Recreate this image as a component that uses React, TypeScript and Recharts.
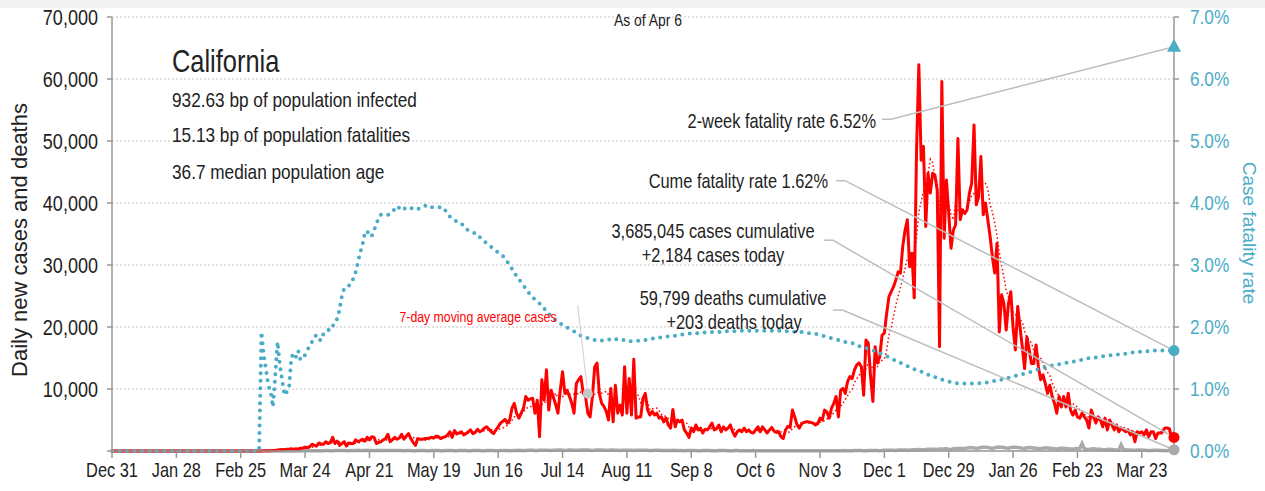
import React from 'react';
import {
    ComposedChart,
    Line,
    XAxis,
    YAxis,
    CartesianGrid,
    ReferenceLine,
    ReferenceDot,
} from 'recharts';

const FONT = "'Liberation Sans', Arial, sans-serif";
const SQUEEZE = 0.82; // narrow look of the original typeface
const BLUE = '#4bacc6';
const RED = '#ff0000';
const GREY = '#aaaaaa';
const LEADER = '#bdbdbd';

// day 0 = Dec 31 2019, day 462 = Apr 6 2021
const tickDays = [0, 28, 56, 84, 112, 140, 168, 196, 224, 252, 280, 308, 336, 364, 392, 420, 448];
const tickLabels = [
    'Dec 31', 'Jan 28', 'Feb 25', 'Mar 24', 'Apr 21', 'May 19', 'Jun 16', 'Jul 14', 'Aug 11',
    'Sep 8', 'Oct 6', 'Nov 3', 'Dec 1', 'Dec 29', 'Jan 26', 'Feb 23', 'Mar 23',
];
const leftTicks = [0, 10000, 20000, 30000, 40000, 50000, 60000, 70000];
const rightTicks = [0, 1, 2, 3, 4, 5, 6, 7];

const dailyCases = [
    0, 0, 0, 0, 0, 0, 0, 0, 0, 0,
    0, 0, 0, 0, 0, 0, 0, 0, 0, 0,
    0, 0, 0, 0, 0, 0, 0, 0, 0, 0,
    0, 0, 0, 0, 0, 0, 0, 0, 0, 0,
    0, 0, 0, 0, 0, 0, 0, 0, 0, 0,
    0, 0, 0, 0, 0, 0, 0, 0, 0, 0,
    5, 8, 10, 12, 15, 20, 25, 30, 45, 60,
    100, 100, 150, 200, 250, 200, 300, 300, 350, 300,
    350, 300, 450, 500, 600, 550, 700, 1100, 900, 800,
    1300, 1100, 1100, 1500, 1200, 1400, 2200, 1200, 1600, 900,
    1200, 1500, 800, 1300, 1200, 1200, 1800, 1500, 1700, 1900,
    1600, 2200, 1800, 2300, 2200, 1200, 1400, 1500, 1800, 2000,
    2700, 1500, 1800, 2200, 1900, 2100, 2700, 1900, 2400, 2800,
    2000, 1400, 900, 2000, 1900, 1900, 2000, 2000, 2100, 2200,
    2100, 2400, 2300, 2000, 2200, 2300, 2600, 3100, 2200, 3300,
    2800, 2900, 3100, 2600, 2800, 3100, 3400, 2800, 3000, 3500,
    3100, 3300, 3700, 3900, 3500, 3100, 2800, 3400, 3900, 4500,
    4800, 5100, 4500, 5000, 6900, 7700, 6100, 5300, 6100, 6900,
    8800, 8200, 8400, 8500, 6100, 8200, 2300, 11500, 8200, 13100,
    6600, 9800, 8700, 7500, 6100, 9800, 12800, 9300, 9800, 8800,
    7700, 6100, 10900, 11500, 12000, 9300, 8800, 6100, 5500, 8800,
    13600, 14200, 9300, 7700, 7200, 6400, 5000, 10100, 4700, 10600,
    6100, 7400, 5800, 13600, 6100, 11700, 5800, 14800, 5300, 5500,
    5500, 8500, 9300, 6600, 5800, 6400, 5800, 6100, 5300, 5500,
    4700, 5300, 4200, 3700, 6700, 3900, 5000, 4700, 5000, 3400,
    2900, 2200, 3700, 3100, 4200, 3400, 3700, 2900, 3500, 3400,
    3900, 4500, 3400, 3600, 4200, 3100, 3900, 3400, 3700, 4200,
    3100, 2400, 3100, 3400, 3100, 3700, 3100, 3400, 3000, 2900,
    3400, 3900, 3100, 3900, 3400, 2900, 3400, 3800, 3200, 3000,
    3100, 2300, 2000, 3400, 4000, 3800, 6600, 5500, 4200, 3700,
    4400, 4600, 4700, 4700, 4600, 4500, 4200, 4400, 5300, 5000,
    6600, 6300, 5300, 6900, 7700, 8800, 5500, 9800, 10100, 9300,
    11200, 12000, 11700, 13100, 13900, 14200, 13600, 9000, 17900, 17400,
    12000, 8000, 16800, 14200, 15200, 18700, 19000, 22200, 24900, 25700,
    26500, 27600, 28900, 28700, 33000, 35600, 37300, 29700, 31900, 24700,
    48500, 62300, 46900, 49100, 36200, 44800, 41600, 44800, 44500, 42000,
    16800, 59600, 34300, 43700, 38300, 32700, 35600, 36500, 50400, 37300,
    38900, 38300, 38900, 41600, 43200, 52600, 39700, 41000, 47500, 38100,
    40000, 37300, 34600, 31300, 28700, 33500, 19200, 25200, 23800, 19500,
    23800, 25700, 19800, 16300, 23300, 20000, 16800, 13300, 18400, 16300,
    14100, 14100, 17100, 13600, 11500, 12300, 10900, 9300, 10600, 8800,
    7700, 6100, 8800, 7100, 8800, 7100, 9300, 6600, 5800, 6600,
    5500, 5300, 6100, 5500, 5000, 3700, 6600, 5500, 4500, 5500,
    5000, 3900, 5300, 3400, 5000, 4200, 3400, 4200, 3100, 3700,
    3400, 3100, 3400, 2600, 3100, 1500, 3100, 2900, 3100, 2600,
    3400, 2300, 3100, 3100, 2000, 2900, 2900, 3100, 3700, 3700,
    3600, 2000, 2184,
];

const dailyDeaths = [
    0, 0, 0, 0, 0, 0, 0, 0, 0, 0,
    0, 0, 0, 0, 0, 0, 0, 0, 0, 0,
    0, 0, 0, 0, 0, 0, 0, 0, 0, 0,
    0, 0, 0, 0, 0, 0, 0, 0, 0, 0,
    0, 0, 0, 0, 0, 0, 0, 0, 0, 0,
    0, 0, 0, 0, 0, 0, 0, 0, 0, 0,
    0, 0, 0, 0, 0, 0, 0, 0, 0, 1,
    2, 1, 3, 2, 4, 6, 5, 8, 10, 12,
    15, 20, 18, 25, 30, 35, 40, 38, 45, 50,
    55, 48, 60, 65, 70, 55, 60, 75, 80, 68,
    85, 90, 70, 60, 95, 100, 90, 110, 80, 75,
    100, 105, 95, 85, 70, 80, 110, 95, 100, 90,
    65, 70, 95, 100, 85, 90, 70, 60, 85, 90,
    80, 55, 60, 90, 85, 80, 75, 60, 50, 85,
    90, 80, 70, 55, 45, 70, 85, 80, 75, 60,
    50, 80, 75, 70, 65, 55, 45, 70, 75, 80,
    70, 60, 50, 65, 75, 70, 65, 55, 60, 80,
    90, 85, 75, 60, 70, 95, 100, 110, 90, 80,
    100, 110, 120, 130, 100, 90, 120, 130, 140, 135,
    110, 95, 130, 140, 150, 145, 120, 100, 140, 150,
    160, 140, 120, 110, 150, 160, 150, 145, 120, 100,
    140, 150, 160, 145, 130, 110, 140, 150, 145, 130,
    120, 100, 130, 140, 135, 120, 110, 90, 120, 130,
    125, 120, 130, 110, 100, 80, 110, 115, 120, 100,
    95, 80, 70, 100, 110, 95, 90, 80, 65, 60,
    95, 100, 90, 85, 70, 55, 50, 85, 90, 80,
    75, 60, 50, 45, 75, 80, 70, 65, 55, 45,
    40, 65, 70, 60, 55, 50, 40, 35, 60, 65,
    55, 50, 45, 35, 30, 55, 60, 50, 45, 40,
    35, 30, 55, 60, 50, 45, 40, 35, 30, 50,
    55, 50, 45, 40, 35, 55, 60, 50, 45, 40,
    35, 55, 60, 55, 50, 45, 40, 60, 65, 60,
    55, 50, 45, 70, 75, 70, 65, 55, 50, 80,
    90, 85, 75, 65, 60, 100, 110, 120, 130, 140,
    120, 100, 150, 160, 170, 180, 160, 140, 190, 200,
    220, 240, 220, 200, 250, 270, 290, 300, 280, 250,
    310, 330, 350, 380, 300, 250, 350, 400, 420, 450,
    380, 450, 480, 520, 550, 500, 420, 500, 550, 600,
    620, 580, 480, 420, 550, 600, 650, 620, 570, 500,
    450, 580, 620, 600, 550, 520, 450, 400, 520, 560,
    540, 500, 460, 400, 350, 480, 500, 470, 440, 400,
    350, 300, 420, 450, 430, 400, 360, 320, 280, 380,
    420, 400, 1200, 350, 300, 260, 340, 350, 320, 300,
    270, 220, 200, 260, 270, 250, 220, 180, 150, 1000,
    220, 200, 180, 150, 120, 110, 170, 180, 160, 140,
    110, 90, 80, 130, 140, 120, 100, 80, 70, 60,
    110, 150, 203,
];

// cumulative case fatality rate, %
const fatalityRate = [
    0, 0, 0, 0, 0, 0, 0, 0, 0, 0,
    0, 0, 0, 0, 0, 0, 0, 0, 0, 0,
    0, 0, 0, 0, 0, 0, 0, 0, 0, 0,
    0, 0, 0, 0, 0, 0, 0, 0, 0, 0,
    0, 0, 0, 0, 0, 0, 0, 0, 0, 0,
    0, 0, 0, 0, 0, 0, 0, 0, 0, 0,
    0, 0, 0, 0, 0, 1.92, 1.55, 1.31, 1.06, 0.96,
    0.71, 1.2, 1.76, 1.39, 1.15, 0.9, 0.95, 1.0, 1.5, 1.58,
    1.52, 1.62, 1.47, 1.5, 1.55, 1.62, 1.7, 1.76, 1.84, 1.87,
    1.8, 1.78, 1.89, 1.9, 1.93, 2.02, 2.02, 2.05, 2.14, 2.28,
    2.5, 2.62, 2.65, 2.66, 2.72, 2.78, 2.89, 3.05, 3.2, 3.33,
    3.52, 3.55, 3.46, 3.47, 3.56, 3.66, 3.76, 3.81, 3.82, 3.82,
    3.81, 3.82, 3.86, 3.9, 3.95, 3.92, 3.88, 3.9, 3.93, 3.93,
    3.92, 3.9, 3.89, 3.9, 3.92, 3.93, 3.95, 3.97, 3.95, 3.93,
    3.93, 3.93, 3.93, 3.93, 3.93, 3.88, 3.82, 3.78, 3.75, 3.72,
    3.7, 3.68, 3.67, 3.62, 3.58, 3.56, 3.54, 3.53, 3.51, 3.5,
    3.45, 3.41, 3.38, 3.35, 3.32, 3.29, 3.26, 3.23, 3.2, 3.17,
    3.15, 3.1, 3.05, 3.0, 2.94, 2.88, 2.82, 2.77, 2.72, 2.67,
    2.62, 2.57, 2.52, 2.48, 2.44, 2.41, 2.38, 2.34, 2.3, 2.25,
    2.21, 2.18, 2.14, 2.11, 2.09, 2.06, 2.03, 2.01, 1.99, 1.97,
    1.95, 1.93, 1.91, 1.88, 1.86, 1.84, 1.83, 1.82, 1.81, 1.8,
    1.79, 1.78, 1.77, 1.78, 1.79, 1.8, 1.8, 1.79, 1.78, 1.8,
    1.81, 1.81, 1.8, 1.78, 1.77, 1.77, 1.77, 1.77, 1.78, 1.78,
    1.78, 1.79, 1.79, 1.8, 1.8, 1.81, 1.82, 1.82, 1.83, 1.83,
    1.84, 1.84, 1.85, 1.85, 1.86, 1.86, 1.87, 1.87, 1.88, 1.88,
    1.89, 1.89, 1.9, 1.9, 1.9, 1.9, 1.91, 1.91, 1.91, 1.91,
    1.92, 1.92, 1.92, 1.92, 1.92, 1.92, 1.93, 1.93, 1.93, 1.93,
    1.93, 1.93, 1.93, 1.94, 1.94, 1.94, 1.94, 1.94, 1.94, 1.94,
    1.94, 1.94, 1.94, 1.94, 1.94, 1.94, 1.94, 1.94, 1.94, 1.94,
    1.94, 1.94, 1.94, 1.93, 1.93, 1.93, 1.93, 1.92, 1.92, 1.92,
    1.92, 1.91, 1.91, 1.9, 1.9, 1.9, 1.89, 1.88, 1.87, 1.86,
    1.85, 1.84, 1.83, 1.82, 1.81, 1.8, 1.79, 1.78, 1.77, 1.76,
    1.76, 1.75, 1.74, 1.72, 1.71, 1.69, 1.68, 1.67, 1.66, 1.65,
    1.63, 1.62, 1.61, 1.59, 1.58, 1.56, 1.55, 1.53, 1.51, 1.49,
    1.47, 1.46, 1.44, 1.42, 1.41, 1.39, 1.37, 1.35, 1.34, 1.32,
    1.31, 1.3, 1.28, 1.26, 1.25, 1.23, 1.22, 1.21, 1.19, 1.18,
    1.16, 1.15, 1.14, 1.13, 1.12, 1.11, 1.1, 1.1, 1.09, 1.09,
    1.09, 1.09, 1.09, 1.09, 1.09, 1.09, 1.09, 1.09, 1.1, 1.1,
    1.1, 1.11, 1.11, 1.12, 1.13, 1.14, 1.15, 1.15, 1.16, 1.17,
    1.18, 1.19, 1.2, 1.21, 1.22, 1.23, 1.24, 1.25, 1.26, 1.27,
    1.28, 1.3, 1.31, 1.32, 1.33, 1.34, 1.35, 1.36, 1.37, 1.38,
    1.39, 1.39, 1.4, 1.41, 1.41, 1.42, 1.43, 1.43, 1.44, 1.45,
    1.46, 1.46, 1.47, 1.48, 1.49, 1.5, 1.5, 1.51, 1.51, 1.52,
    1.52, 1.53, 1.53, 1.54, 1.54, 1.55, 1.55, 1.55, 1.56, 1.56,
    1.57, 1.57, 1.58, 1.58, 1.59, 1.59, 1.6, 1.6, 1.6, 1.61,
    1.61, 1.61, 1.62, 1.62, 1.62, 1.62, 1.62, 1.62, 1.62, 1.62,
    1.62, 1.62, 1.62,
];

const twoWeekRate = 6.52;
const lastDay = dailyCases.length - 1;

// trailing 7-day average of the daily cases
const movingAvg = dailyCases.map((_, i) => {
    const win = dailyCases.slice(Math.max(0, i - 6), i + 1);
    return win.reduce((a, b) => a + b, 0) / win.length;
});

const chartData = dailyCases.map((c, i) => ({
    day: i,
    cases: c,
    ma: movingAvg[i],
    deaths: dailyDeaths[i],
    cfr: fatalityRate[i],
}));

const maMarkerDay = 207;

// text squeezed horizontally around its anchor point
const NText = ({ x, y, size, anchor = 'start', fill = '#222', rotate = 0, dy, squeeze = SQUEEZE, children }: any) => (
    <text
        transform={`translate(${x},${y}) rotate(${rotate}) scale(${squeeze},1)`}
        fontSize={size}
        fontFamily={FONT}
        textAnchor={anchor}
        fill={fill}
        dy={dy}
    >
        {children}
    </text>
);

const XTick = ({ x, y, payload }: any) => (
    <NText x={x} y={y} size={20} anchor="middle" dy="0.71em">
        {tickLabels[tickDays.indexOf(payload.value)]}
    </NText>
);

const LeftTick = ({ x, y, payload }: any) =>
    payload.value === 0 ? null : (
        <NText x={x} y={y} size={22} anchor="end" dy="0.355em">
            {Number(payload.value).toLocaleString('en-US')}
        </NText>
    );

const RightTick = ({ x, y, payload }: any) => (
    <NText x={x} y={y} size={21} anchor="start" dy="0.355em" fill={BLUE}>
        {Number(payload.value).toFixed(1) + '%'}
    </NText>
);

const Triangle = (props: any) => {
    const { cx, cy } = props;
    return <path d={`M${cx},${cy - 8} L${cx + 7},${cy + 5} L${cx - 7},${cy + 5} Z`} fill={BLUE} />;
};

const leader = { stroke: LEADER, strokeWidth: 1.5, ifOverflow: 'visible' as const };
const axisStyle = { stroke: '#999', strokeWidth: 1.5 };

export default function App() {
    return (
        <div style={{ position: 'absolute', left: 0, top: 0, width: 1265, height: 491, background: '#fff', overflow: 'hidden', fontFamily: FONT }}>
            <div style={{ position: 'absolute', left: 0, top: 0, width: 1265, height: 8, background: '#f2f2f2' }} />
            <div style={{ position: 'absolute', left: 0, top: 0 }}>
                <ComposedChart width={1265} height={491} data={chartData} margin={{ top: 17, right: 0, bottom: 10, left: 0 }}>
                    <CartesianGrid yAxisId="left" vertical={false} stroke="#c4c4c4" strokeDasharray="2 2" />
                    <XAxis
                        dataKey="day"
                        type="number"
                        domain={[0, lastDay]}
                        ticks={tickDays}
                        interval={0}
                        height={30}
                        tick={<XTick />}
                        axisLine={axisStyle}
                        tickLine={axisStyle}
                        tickSize={7}
                        tickMargin={5}
                    />
                    <YAxis
                        yAxisId="left"
                        domain={[0, 70000]}
                        ticks={leftTicks}
                        width={112}
                        tick={<LeftTick />}
                        axisLine={axisStyle}
                        tickLine={axisStyle}
                        tickSize={5}
                        tickMargin={9}
                    />
                    <YAxis
                        yAxisId="right"
                        orientation="right"
                        domain={[0, 7]}
                        ticks={rightTicks}
                        width={91}
                        tick={<RightTick />}
                        axisLine={axisStyle}
                        tickLine={axisStyle}
                        tickSize={5}
                        tickMargin={11}
                    />
                    <Line yAxisId="left" type="linear" dataKey="deaths" stroke={GREY} strokeWidth={3.5} dot={false} isAnimationActive={false} />
                    <Line yAxisId="left" type="linear" dataKey="cases" stroke={RED} strokeWidth={3} strokeLinejoin="round" dot={false} isAnimationActive={false} />
                    <Line yAxisId="left" type="linear" dataKey="ma" stroke={RED} strokeWidth={1.5} strokeDasharray="1.5 2.5" dot={false} isAnimationActive={false} />
                    <Line yAxisId="right" type="linear" dataKey="cfr" stroke={BLUE} strokeWidth={4} strokeDasharray="0 7.5" strokeLinecap="round" dot={false} isAnimationActive={false} />

                    {/* leader lines */}
                    <ReferenceLine yAxisId="left" segment={[{ x: 202.6, y: 23500 }, { x: maMarkerDay, y: movingAvg[maMarkerDay] }]} stroke="#cfcfcf" strokeWidth={1} ifOverflow="visible" />
                    <ReferenceLine yAxisId="right" segment={[{ x: 335, y: 5.35 }, { x: 338.9, y: 5.35 }]} {...leader} />
                    <ReferenceLine yAxisId="right" segment={[{ x: 338.9, y: 5.35 }, { x: lastDay, y: twoWeekRate }]} {...leader} />
                    <ReferenceLine yAxisId="right" segment={[{ x: 315, y: 4.36 }, { x: 318.9, y: 4.36 }]} {...leader} />
                    <ReferenceLine yAxisId="right" segment={[{ x: 318.9, y: 4.36 }, { x: lastDay, y: fatalityRate[lastDay] }]} {...leader} />
                    <ReferenceLine yAxisId="left" segment={[{ x: 309.7, y: 34000 }, { x: 313.6, y: 34000 }]} {...leader} />
                    <ReferenceLine yAxisId="left" segment={[{ x: 313.6, y: 34000 }, { x: lastDay, y: dailyCases[lastDay] }]} {...leader} />
                    <ReferenceLine yAxisId="left" segment={[{ x: 313.6, y: 22750 }, { x: 318, y: 22700 }]} {...leader} />
                    <ReferenceLine yAxisId="left" segment={[{ x: 318, y: 22700 }, { x: lastDay, y: dailyDeaths[lastDay] }]} {...leader} />

                    <ReferenceDot yAxisId="left" x={maMarkerDay} y={movingAvg[maMarkerDay]} r={5} fill="#c8c8c8" stroke="none" ifOverflow="visible" />
                    <ReferenceDot yAxisId="right" x={lastDay} y={twoWeekRate} shape={Triangle} ifOverflow="visible" />
                    <ReferenceDot yAxisId="right" x={lastDay} y={fatalityRate[lastDay]} r={5.5} fill={BLUE} stroke="none" ifOverflow="visible" />
                    <ReferenceDot yAxisId="left" x={lastDay} y={dailyCases[lastDay]} r={5.5} fill={RED} stroke="none" ifOverflow="visible" />
                    <ReferenceDot yAxisId="left" x={lastDay} y={dailyDeaths[lastDay]} r={5.5} fill={GREY} stroke="none" ifOverflow="visible" />
                </ComposedChart>
            </div>
            <svg width={1265} height={491} style={{ position: 'absolute', left: 0, top: 0, pointerEvents: 'none' }}>
                <NText x={648} y={26} size={17} anchor="middle">As of Apr 6</NText>
                <NText x={172} y={72} size={31}>California</NText>
                <NText x={172} y={107} size={21}>932.63 bp of population infected</NText>
                <NText x={172} y={142} size={21}>15.13 bp of population fatalities</NText>
                <NText x={172} y={179} size={21}>36.7 median population age</NText>
                <NText x={876} y={128} size={20} anchor="end">2-week fatality rate 6.52%</NText>
                <NText x={828} y={188} size={20} anchor="end">Cume fatality rate 1.62%</NText>
                <NText x={713} y={238} size={20} anchor="middle">3,685,045 cases cumulative</NText>
                <NText x={713} y={262} size={20} anchor="middle">+2,184 cases today</NText>
                <NText x={733} y={305} size={20} anchor="middle">59,799 deaths cumulative</NText>
                <NText x={734} y={329} size={20} anchor="middle">+203 deaths today</NText>
                <NText x={478} y={322} size={15} anchor="middle" fill={RED}>7-day moving average cases</NText>
                <NText x={27} y={240} size={22} anchor="middle" rotate={-90} squeeze={1}>Daily new cases and deaths</NText>
                <NText x={1243} y={233} size={19} anchor="middle" rotate={90} squeeze={1} fill={BLUE}>Case fatality rate</NText>
            </svg>
        </div>
    );
}
